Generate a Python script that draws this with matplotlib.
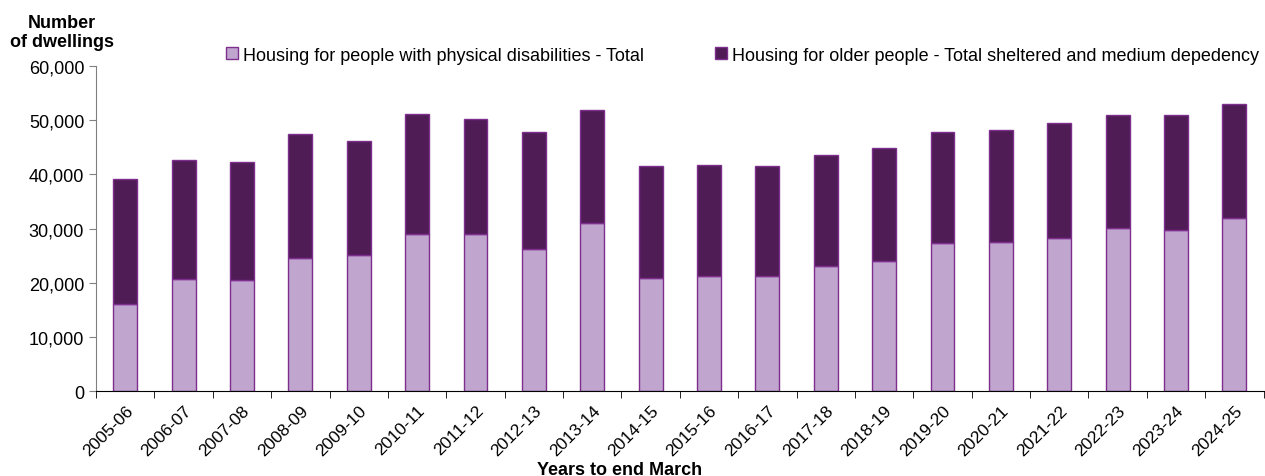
import matplotlib
matplotlib.use('Agg')
import matplotlib.pyplot as plt
import numpy as np

plt.rcParams['font.family'] = ['Liberation Sans', 'DejaVu Sans']

years = ['2005-06', '2006-07', '2007-08', '2008-09', '2009-10', '2010-11',
         '2011-12', '2012-13', '2013-14', '2014-15', '2015-16', '2016-17',
         '2017-18', '2018-19', '2019-20', '2020-21', '2021-22', '2022-23',
         '2023-24', '2024-25']
physical = [16000, 20700, 20500, 24600, 25200, 29000, 29000, 26300, 31000, 20800,
            21200, 21200, 23100, 24000, 27300, 27600, 28200, 30100, 29700, 31900]
totals = [39200, 42700, 42300, 47500, 46200, 51100, 50300, 47900, 51800, 41600,
          41700, 41500, 43600, 44900, 47800, 48200, 49400, 51000, 50900, 52900]
older = [t - p for t, p in zip(totals, physical)]

light = '#C0A5CF'
dark = '#4F1C55'
edge = '#7E2F8E'

fig = plt.figure(figsize=(12.65, 4.77), dpi=100)
ax = fig.add_axes([0.0759, 0.178, 0.923, 0.6815])

x = np.arange(len(years))
ax.bar(x, physical, width=0.41, color=light, edgecolor=edge, linewidth=1,
       label='Housing for people with physical disabilities - Total')
ax.bar(x, older, width=0.41, bottom=physical, color=dark, edgecolor=edge, linewidth=1,
       label='Housing for older people - Total sheltered and medium depedency')

ax.set_xlim(-0.5, len(years) - 0.5)
ax.set_ylim(0, 60000)
ax.set_yticks(np.arange(0, 60001, 10000))
ax.set_yticklabels(['{:,}'.format(v) for v in range(0, 60001, 10000)], fontsize=13)

ax.set_xticks(x)
ax.set_xticklabels(years, rotation=45, ha='right', rotation_mode='anchor', fontsize=12.5)
ax.tick_params(axis='x', length=0, pad=8)
ax.set_xticks(np.arange(-0.5, len(years), 1), minor=True)
ax.tick_params(axis='x', which='minor', length=5, color='black')
ax.tick_params(axis='y', length=5, color='#808080')

for s in ['top', 'right']:
    ax.spines[s].set_visible(False)
ax.spines['left'].set_color('#808080')
ax.spines['bottom'].set_color('black')

fig.text(0.049, 0.968, 'Number\nof dwellings', ha='center', va='top',
         fontsize=13, fontweight='bold', linespacing=1.15)
fig.text(0.49, 0.031, 'Years to end March', ha='center', va='top',
         fontsize=13, fontweight='bold')

ax.legend(loc='lower left', bbox_to_anchor=(0.105, 0.985), ncol=2, frameon=False,
          fontsize=13, handlelength=0.65, handleheight=0.65, handletextpad=0.3,
          columnspacing=3.95, borderaxespad=0)

fig.savefig('out.png', dpi=100)
